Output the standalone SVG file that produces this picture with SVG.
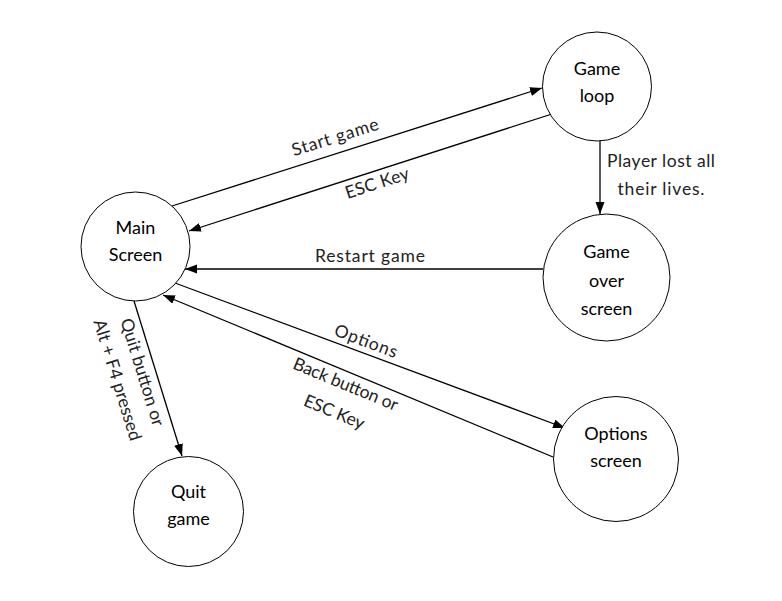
<svg xmlns="http://www.w3.org/2000/svg" width="782" height="601" viewBox="0 0 782 601">
<defs>
<marker id="arr" markerUnits="userSpaceOnUse" markerWidth="13" markerHeight="10" refX="12" refY="4.5" orient="auto">
<path d="M0,0 L12,4.5 L0,9 z" fill="#000"/>
</marker>
<style>
.node circle{fill:#fff;stroke:#000;stroke-width:1}
.node text{font-family:Lato,"Liberation Sans",sans-serif;font-size:18px;fill:#000;text-anchor:middle}
.edge{stroke:#000;stroke-width:1.3;fill:none;marker-end:url(#arr)}
.lbl{font-family:Lato,"Liberation Sans",sans-serif;font-size:17.5px;fill:#222;text-anchor:middle}
</style>
</defs>
<rect width="782" height="601" fill="#fff"/>
<g id="connectors">
<line class="edge" x1="172" y1="206" x2="542" y2="88"/>
<line class="edge" x1="552" y1="114" x2="189" y2="231"/>
<line class="edge" x1="543" y1="269" x2="185" y2="269"/>
<line class="edge" x1="600" y1="141" x2="600" y2="214"/>
<line class="edge" x1="175" y1="283" x2="565" y2="428"/>
<line class="edge" x1="553" y1="457" x2="163" y2="295"/>
<line class="edge" x1="134" y1="301" x2="182" y2="456"/>
<g transform="translate(335,137) rotate(-17.6)"><text class="lbl" x="0" y="6" textLength="90" lengthAdjust="spacing">Start game</text></g>
<g transform="translate(377,183) rotate(-18)"><text class="lbl" x="0" y="6" textLength="66" lengthAdjust="spacing">ESC Key</text></g>
<text class="lbl" x="370" y="262" textLength="110" lengthAdjust="spacing">Restart game</text>
<text class="lbl" x="661" y="167" textLength="108" lengthAdjust="spacing">Player lost all</text>
<text class="lbl" x="661" y="195" textLength="87" lengthAdjust="spacing">their lives.</text>
<g transform="translate(366,341) rotate(20.5)"><text class="lbl" x="0" y="6" textLength="66" lengthAdjust="spacing">Options</text></g>
<g transform="translate(340,398) rotate(22.5)"><text class="lbl" x="0" y="-9" textLength="112" lengthAdjust="spacing">Back button or</text><text class="lbl" x="0" y="21" textLength="64" lengthAdjust="spacing">ESC Key</text></g>
<g transform="translate(130,376) rotate(72.8)"><text class="lbl" x="0" y="-7" textLength="112" lengthAdjust="spacing">Quit button or</text><text class="lbl" x="0" y="19" textLength="126" lengthAdjust="spacing">Alt + F4 pressed</text></g>
</g>
<g id="main-screen" class="node"><circle cx="135.5" cy="246.5" r="54.5"/><text x="135.5" y="234">Main</text><text x="135.5" y="261">Screen</text></g>
<g id="game-loop" class="node"><circle cx="597" cy="86.5" r="54.5"/><text x="597" y="75">Game</text><text x="597" y="102">loop</text></g>
<g id="game-over-screen" class="node"><circle cx="606.5" cy="277.5" r="63.5"/><text x="606.5" y="258">Game</text><text x="606.5" y="287">over</text><text x="606.5" y="315">screen</text></g>
<g id="options-screen" class="node"><circle cx="616" cy="459" r="62.5"/><text x="616" y="440">Options</text><text x="616" y="467">screen</text></g>
<g id="quit-game" class="node"><circle cx="188.5" cy="511.5" r="55"/><text x="188.5" y="498">Quit</text><text x="188.5" y="525">game</text></g>
</svg>
